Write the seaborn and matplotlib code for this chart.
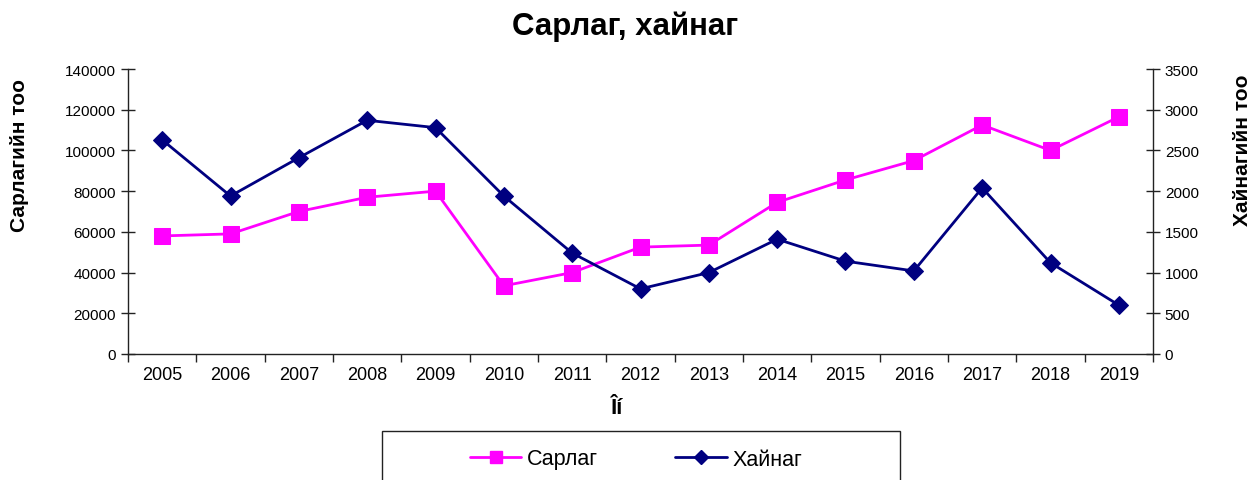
import matplotlib.pyplot as plt
import numpy as np
import pandas as pd
import seaborn as sns
from matplotlib.lines import Line2D
from matplotlib.patches import Rectangle

years = [str(y) for y in range(2005, 2020)]
sarlag = [58000, 59000, 70000, 77000, 80000, 33500, 40000, 52500,
          53500, 74500, 85500, 95000, 112500, 100000, 116500]
khainag = [2630, 1940, 2410, 2870, 2780, 1940, 1240, 800,
           1000, 1410, 1140, 1020, 2040, 1120, 600]

title = "Сарлаг, хайнаг"
left_label = "Сарлагийн тоо"
right_label = "Хайнагийн тоо"
x_label = "Îí"
series_names = ["Сарлаг", "Хайнаг"]

sns.set_style("ticks")
plt.rcParams["font.family"] = ["Liberation Sans", "DejaVu Sans"]
plt.rcParams["text.color"] = "black"
plt.rcParams["xtick.color"] = "black"
plt.rcParams["ytick.color"] = "black"
plt.rcParams["axes.labelcolor"] = "black"

df = pd.DataFrame({"year": years, "sarlag": sarlag, "khainag": khainag})
df["pos"] = np.arange(len(years))

W, H = 1253, 481
fig = plt.figure(figsize=(W / 100, H / 100), dpi=100)
ax = fig.add_axes([128 / W, 1 - 355 / H, (1153 - 128) / W, 285 / H])
ax2 = ax.twinx()

magenta = "#FF00FF"
navy = "#000080"

sns.lineplot(data=df, x="pos", y="sarlag", ax=ax, color=magenta, linewidth=2,
             marker="s", markersize=11, markeredgecolor=magenta, zorder=3)
sns.lineplot(data=df, x="pos", y="khainag", ax=ax2, color=navy, linewidth=2,
             marker="D", markersize=9, markeredgecolor=navy, zorder=3)

ax.set_xlim(-0.5, len(years) - 0.5)
ax.set_ylim(0, 140000)
ax2.set_ylim(0, 3500)
ax.set_yticks(np.arange(0, 140001, 20000))
ax2.set_yticks(np.arange(0, 3501, 500))

# category boundaries as major ticks, labels on minor ticks at centres
ax.set_xticks(np.arange(-0.5, len(years), 1.0))
ax.set_xticklabels([])
ax.set_xticks(np.arange(len(years)), minor=True)
ax.set_xticklabels(years, minor=True, fontsize=13)
ax.tick_params(axis="x", which="major", direction="out", length=6, width=1, color="#222222")
ax.tick_params(axis="x", which="minor", length=0, pad=9)
ax.tick_params(axis="y", direction="inout", length=10, width=1, labelsize=11, color="#222222")
ax2.tick_params(axis="y", direction="inout", length=10, width=1, labelsize=11, color="#222222")

for a in (ax, ax2):
    a.spines["top"].set_visible(False)
    for s in ("left", "right", "bottom"):
        a.spines[s].set_color("#222222")
        a.spines[s].set_linewidth(1)
ax.spines["right"].set_visible(False)
ax2.spines["left"].set_visible(False)
ax2.spines["bottom"].set_visible(False)

ax.set_xlabel("")
ax.set_ylabel("")
ax2.set_ylabel("")
fig.text(20 / W, 1 - 156 / H, left_label, rotation=90, ha="center", va="center",
         fontsize=15, fontweight="bold")
fig.text(1242 / W, 1 - 150 / H, right_label, rotation=90, ha="center", va="center",
         fontsize=15, fontweight="bold")
fig.text(617 / W, 1 - 408 / H, x_label, ha="center", va="center",
         fontsize=16, fontweight="bold")
fig.text(625 / W, 1 - 27 / H, title, ha="center", va="center",
         fontsize=22.5, fontweight="bold")

fig.patches.append(Rectangle((382 / W, -0.05), (900 - 382) / W, 0.05 + 49 / H,
                             transform=fig.transFigure, fill=False,
                             edgecolor="#222222", linewidth=1))
handles = [
    Line2D([], [], color=magenta, linewidth=2, marker="s", markersize=9),
    Line2D([], [], color=navy, linewidth=2, marker="D", markersize=7),
]
fig.legend(handles, series_names, loc="center", bbox_to_anchor=(636 / W, 1 - 460 / H),
           ncol=2, frameon=False, fontsize=15.5, handlelength=2.4, handletextpad=0.25,
           columnspacing=3.6)

fig.savefig("out.png", dpi=100)
